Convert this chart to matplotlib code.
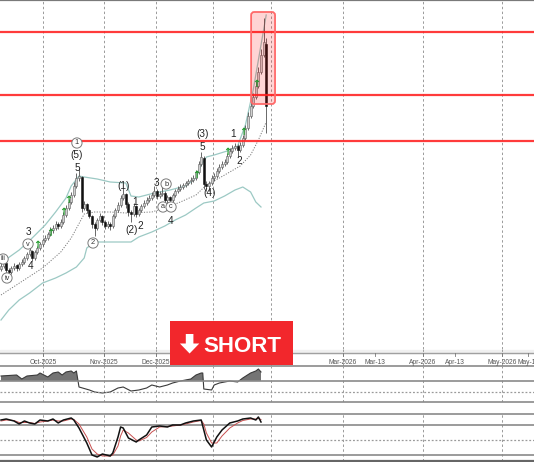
import matplotlib
matplotlib.use('Agg')
import matplotlib.pyplot as plt
from matplotlib.patches import Rectangle, FancyBboxPatch, Polygon
import numpy as np

plt.rcParams['font.family'] = ['Liberation Sans', 'DejaVu Sans']

# ---------------- data (price in arbitrary chart units) ----------------
opens = [80, 83, 86, 79, 77, 81, 84, 81, 85, 87, 91, 95, 98, 91, 97, 101, 105, 109, 111, 115,
         119, 121, 125, 123, 127, 134, 141, 147, 154, 163, 171, 172, 141, 145, 139, 133, 125, 121, 129, 133,
         127, 123, 125, 123, 133, 139, 144, 151, 155, 145, 137, 135, 143, 135, 139, 143, 146, 149, 151, 154,
         158, 153, 155, 156, 149, 152, 149, 154, 158, 160, 162, 164, 166, 168, 169, 171, 177, 185, 191, 165,
         163, 166, 171, 173, 178, 182, 185, 187, 193, 198, 201, 203, 199, 204, 211, 221, 233, 243, 252, 263,
         277, 294, 305]
highs = [86, 90, 87, 81, 83, 86, 85, 87, 90, 93, 97, 102, 99, 99, 103, 107, 111, 114, 117, 122,
         124, 128, 127, 130, 137, 144, 150, 157, 167, 176, 181, 173, 148, 146, 140, 134, 127, 131, 136, 134,
         129, 128, 127, 135, 141, 147, 154, 161, 156, 147, 139, 146, 144, 141, 145, 149, 152, 154, 157, 163,
         160, 158, 166, 158, 154, 153, 156, 160, 163, 165, 166, 168, 170, 172, 174, 179, 188, 197, 193, 168,
         168, 174, 176, 181, 185, 188, 190, 196, 201, 204, 206, 205, 207, 214, 224, 237, 247, 256, 268, 282,
         300, 331, 311]
lows = [78, 81, 76, 72, 75, 79, 78, 79, 83, 85, 89, 93, 88, 89, 95, 99, 103, 107, 109, 113,
        116, 119, 120, 121, 125, 132, 139, 145, 152, 161, 168, 137, 139, 136, 131, 121, 113, 119, 127, 124,
        120, 121, 119, 121, 131, 137, 142, 149, 141, 133, 127, 133, 132, 133, 137, 141, 144, 147, 149, 152,
        150, 151, 153, 140, 146, 145, 147, 152, 156, 158, 160, 162, 164, 165, 167, 169, 175, 183, 160, 158,
        158, 164, 168, 171, 176, 180, 183, 185, 191, 196, 199, 192, 197, 202, 209, 219, 231, 241, 250, 261,
        275, 292, 216]
closes = [83, 87, 79, 77, 81, 83, 81, 85, 87, 91, 95, 99, 91, 97, 101, 105, 109, 111, 115, 119,
          121, 125, 123, 127, 134, 141, 147, 154, 163, 171, 173, 141, 145, 139, 133, 125, 121, 129, 133, 127,
          123, 125, 123, 133, 139, 144, 151, 155, 145, 137, 135, 143, 135, 139, 143, 146, 149, 151, 154, 158,
          153, 155, 156, 149, 152, 149, 154, 158, 160, 162, 164, 166, 168, 169, 171, 177, 185, 192, 165, 163,
          166, 171, 173, 178, 182, 185, 187, 193, 198, 201, 203, 199, 204, 211, 221, 233, 243, 252, 263, 277,
          294, 307, 243]

upper_bars = [0, 7, 12, 17, 21, 25, 27, 30, 32, 37, 42, 48, 50, 53, 59, 65, 71, 75, 77, 79, 82, 87, 91, 94, 97, 100, 102]
upper_vals = [86, 99, 111, 124, 137, 151, 163, 173, 172, 170, 167, 166, 153, 152, 156, 159, 163, 171, 184, 192, 194, 198, 203, 224, 259, 304, 334]
lower_bars = [0, 3, 7, 11, 16, 21, 25, 29, 32, 33, 36, 42, 50, 53, 58, 63, 67, 71, 75, 78, 82, 86, 90, 93, 96, 98, 100]
lower_vals = [29, 39, 49, 56, 66, 71, 76, 82, 91, 101, 107, 107, 107, 112, 117, 123, 129, 134, 141, 146, 148, 153, 159, 162, 157, 147, 142]
mid_bars = [0, 16, 23, 27, 32, 36, 42, 48, 58, 63, 69, 75, 79, 84, 88, 92, 96, 99, 102]
mid_vals = [54, 81, 97, 111, 135, 137, 137, 136, 137, 141, 147, 154, 164, 171, 177, 183, 194, 209, 227]

levels = [317, 254, 208]

arrow_bars = [14, 19, 24, 26, 75, 87, 93, 98]
arrow_levels = [104, 116, 137, 149, 174, 197, 217, 265]

wave_texts = ['1', '(5)', '5', '3', 'v', '4', 'iii', 'iv', '2', '(1)', '1', '(2)', '2', '3',
              'b', 'a', 'c', '4', '(3)', '5', '(4)', '1', '2', '5']
wave_bars = [29.2, 29.2, 29.2, 10.4, 10.4, 11.5, 0.8, 2.3, 35.4, 47.3, 51.5, 50.4, 53.5, 59.6,
             63.5, 62.3, 65.4, 65.4, 77.7, 77.3, 80.4, 89.2, 91.5, 104.6]
wave_levels = [206, 194, 181, 117, 105, 83, 90, 71, 106, 163, 147, 119, 123, 166,
               165, 142, 142, 128, 215, 202, 156, 215, 188, 352]
wave_circled = [True, False, False, False, True, False, True, True, True, False, False, False, False, False,
                True, True, True, False, False, False, False, False, False, False]

osc1_bars = [0, 6, 8, 10, 14, 15, 18, 20, 22, 23.5, 25, 27, 28, 29, 30, 34, 36, 39, 42, 45, 47, 50, 53, 56,
             58, 61, 64, 66, 69, 73, 75, 77, 77.6, 78, 81, 82, 84, 88, 91, 93, 96, 98, 99, 100]
osc1_vals = [5, 6, 2, 5, 6, 8, 4, 8, 9, 6, 9, 10, 8, 10, -6, -9, -11, -12, -11, -7, -6, -10, -9, -7,
             -4, -6, -4, -2, 0, 2, 6, 8, 8, -8, -9, -4, -2, 0, -1, 3, 8, 10, 12, 9]

stoch_bars = [0, 2, 5, 7, 9, 11, 13, 15, 18, 20, 22, 24, 27, 28, 30, 33, 35, 37, 39, 42, 43, 45, 46, 47,
              49, 52, 53, 56, 58, 61, 64, 66, 69, 71, 74, 77, 78, 79, 81, 83, 85, 88, 91, 93, 96, 98, 99, 100]
stoch_k = [90, 92, 88, 82, 88, 84, 82, 90, 88, 92, 84, 90, 94, 90, 74, 44, 20, 16, 22, 18, 24, 56, 76, 74,
           54, 46, 50, 60, 76, 78, 76, 80, 80, 84, 88, 90, 70, 50, 36, 56, 70, 84, 88, 92, 94, 90, 96, 86]
stoch_d = [88, 90, 89, 85, 85, 85, 83, 86, 88, 90, 88, 88, 92, 91, 82, 56, 32, 22, 18, 18, 20, 38, 58, 70,
           64, 50, 48, 55, 66, 76, 77, 78, 80, 82, 86, 89, 82, 64, 44, 44, 58, 74, 84, 89, 92, 92, 93, 91]

month_bars = [16.15, 39.6, 59.6, 81.5, 103.8, 131.5, 162.3, 192.7]
tick_labels = ['Oct-2025', 'Nov-2025', 'Dec-2025', 'Jan-2026', 'Feb-2026', 'Mar-2026', 'Mar-13',
               'Apr-2026', 'Apr-13', 'May-2026', 'May-13']
tick_bars = [16.15, 39.6, 59.6, 81.5, 103.8, 131.5, 143.8, 162.3, 174.6, 192.7, 202.7]

# ---------------- layout ----------------
W, H = 534, 462
fig = plt.figure(figsize=(W / 100, H / 100), dpi=100)
fig.patch.set_facecolor('white')


def box(top, bottom):
    return [0, 1 - bottom / H, 1, (bottom - top) / H]


XL = (-1 / 2.6, 533 / 2.6)
GRID = dict(color='#9a9a9a', lw=0.7, ls=(0, (2.5, 2.5)), zorder=0)
HL = '#8a8a8a'

# ---- main price panel ----
ax = fig.add_axes(box(0, 349))
ax.set_xlim(*XL)
ax.set_ylim(0, 349)
ax.set_axis_off()
for m in month_bars:
    ax.axvline(m, **GRID)
ax.axhline(349, color='#7a7a7a', lw=1.6, clip_on=False, zorder=5)

ax.plot(upper_bars, upper_vals, color='#9cc9c4', lw=0.9, zorder=1)
ax.plot(lower_bars, lower_vals, color='#9cc9c4', lw=0.9, zorder=1)
ax.plot(mid_bars, mid_vals, color='#7a7a7a', lw=0.7, ls=(0, (1.2, 1.5)), zorder=1)

o = np.array(opens); c = np.array(closes); hi = np.array(highs); lo = np.array(lows)
idx = np.arange(len(c))
ax.vlines(idx, lo, hi, color='#505050', lw=0.6, zorder=2)
up = c >= o
body_b = np.minimum(o, c)
body_h = np.maximum(np.abs(c - o), 1.0)
ax.bar(idx[up], body_h[up], bottom=body_b[up], width=0.75, color='#d0d0d0',
       edgecolor='#606060', linewidth=0.4, zorder=3)
ax.bar(idx[~up], body_h[~up], bottom=body_b[~up], width=0.75, color='#111111',
       edgecolor='#111111', linewidth=0.4, zorder=3)

for lv in levels:
    ax.axhline(lv, color='#ff2626', lw=1.6, alpha=0.9, zorder=4)

hl = FancyBboxPatch((96.2, 245), 105.4 - 96.2, 337 - 245,
                    boxstyle='round,pad=0,rounding_size=1.2', mutation_aspect=2.6,
                    facecolor=(1, 0, 0, 0.17), edgecolor='#ff6a6a', lw=1.3, zorder=5)
ax.add_patch(hl)

for b, lv in zip(arrow_bars, arrow_levels):
    ax.text(b, lv, '\u2191', color='#1f9a2a', fontsize=7, fontweight='bold',
            ha='center', va='center', family='DejaVu Sans', zorder=6)

for t, b, lv, circ in zip(wave_texts, wave_bars, wave_levels, wave_circled):
    if circ:
        ax.text(b, lv, t, fontsize=5.3, color='#333333', ha='center', va='center', zorder=7,
                bbox=dict(boxstyle='circle,pad=0.22', fc='white', ec='#7a7a7a', lw=0.7))
    else:
        ax.text(b, lv, t, fontsize=7.2, color='#222222', ha='center', va='center', zorder=7,
                clip_on=True)

# ---- date strip ----
axd = fig.add_axes(box(349, 366))
axd.set_xlim(*XL)
axd.set_ylim(17, 0)
axd.set_axis_off()
axd.axhline(4, color='#a0a0a0', lw=1.0)
axd.axhline(17, color=HL, lw=1.2, clip_on=False)
axd.add_patch(Rectangle((XL[0], 0.5), XL[1] - XL[0], 3.5, color='#f0f0f0', zorder=0))
for m in month_bars:
    axd.axvline(m, **GRID)
for lab, b in zip(tick_labels, tick_bars):
    axd.plot([b, b], [4, 6.5], color='#777777', lw=0.6)
    axd.text(b, 13, lab, fontsize=4.8, color='#555555', ha='center', va='center', clip_on=True)

# ---- oscillator 1 (area) ----
ax1 = fig.add_axes(box(366, 402))
ax1.set_xlim(*XL)
ax1.set_ylim(-21, 15)
ax1.set_axis_off()
for m in month_bars:
    ax1.axvline(m, **GRID)
v1 = np.array(osc1_vals, dtype=float)
ax1.fill_between(osc1_bars, v1, 0, where=v1 >= 0, interpolate=True, color='#747474', lw=0, zorder=1)
ax1.plot(osc1_bars, v1, color='#3a3a3a', lw=0.8, zorder=2)
ax1.axhline(0, color=HL, lw=1.2, zorder=3)
ax1.axhline(-11, color='#9a9a9a', lw=0.9, ls=(0, (1.5, 1.5)))
ax1.axhline(-21, color=HL, lw=1.2, clip_on=False)

# ---- oscillator 2 (stochastic) ----
ax2 = fig.add_axes(box(414, 461))
ax2.set_xlim(*XL)
ax2.set_ylim(8, 102)
ax2.set_axis_off()
for m in month_bars:
    ax2.axvline(m, **GRID)
ax2.axhline(102, color=HL, lw=1.2, clip_on=False)
ax2.axhline(80, color=HL, lw=1.2)
ax2.axhline(50, color='#9a9a9a', lw=0.9, ls=(0, (1.5, 1.5)))
ax2.axhline(20, color=HL, lw=1.2)
ax2.axhline(8, color='#666666', lw=1.6, clip_on=False)
ax2.plot(stoch_bars, stoch_d, color='#c85050', lw=0.7, zorder=2)
ax2.plot(stoch_bars, stoch_k, color='#111111', lw=1.1, zorder=3)

# ---- SHORT banner overlay ----
ov = fig.add_axes([0, 0, 1, 1], zorder=10)
ov.set_xlim(0, W)
ov.set_ylim(H, 0)
ov.set_axis_off()
ov.patch.set_alpha(0)
ov.add_patch(Rectangle((170, 321), 123, 44, facecolor='#f2272c', edgecolor='none'))
ov.add_patch(Polygon([(185.8, 334), (193.4, 334), (193.4, 343.5), (199.3, 343.5),
                      (189.6, 353.5), (179.9, 343.5), (185.8, 343.5)],
                     closed=True, facecolor='white', edgecolor='none'))
ov.text(242, 351.7, 'SHORT', color='white', fontsize=16, fontweight='bold',
        ha='center', va='baseline', family='Liberation Sans')

fig.savefig('out.png', dpi=100, facecolor='white')
